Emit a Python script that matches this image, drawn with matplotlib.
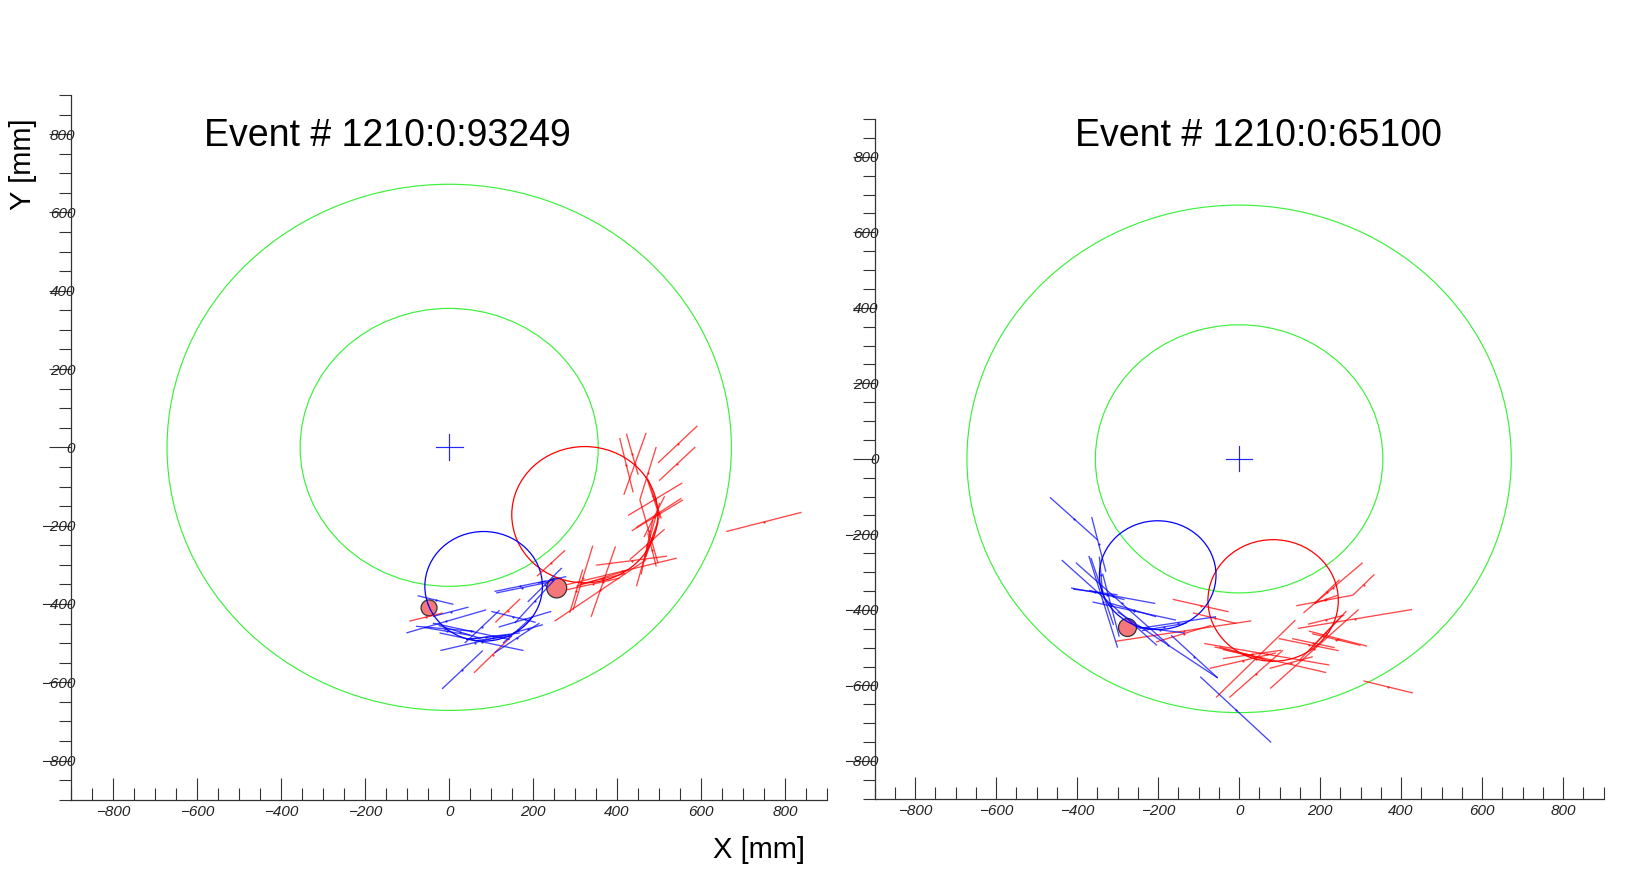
import numpy as np
import matplotlib
matplotlib.use('Agg')
import matplotlib.pyplot as plt
from matplotlib.collections import LineCollection
from matplotlib.patches import Circle
from matplotlib.ticker import MultipleLocator

plt.rcParams['font.family'] = ['Liberation Sans', 'DejaVu Sans']

W, H = 1641, 877

event_left = 'Event # 1210:0:93249'
event_right = 'Event # 1210:0:65100'

# detector radii [mm]
ring_radii = [355, 672]
axis_limit = 900

# helix circles: centre x, centre y, radius [mm]
left_red_helix = (323, -172, 174)
left_blue_helix = (82, -355, 140)
right_red_helix = (84, -375, 161)
right_blue_helix = (-201, -308, 144)

# vertices x, y
left_vertices = [(256, -359), (-48, -410)]
right_vertices = [(-277, -445)]

# hit segments x1, y1, x2, y2 [mm]
left_red = [
    (406, 24, 438, -115), (422, 35, 450, -70), (469, 37, 416, -121), (493, 1, 454, -134),
    (591, 55, 497, -40), (586, 1, 500, -85), (555, -91, 426, -174), (557, -134, 435, -213),
    (513, -209, 430, -287), (454, -134, 497, -295), (513, -125, 464, -229), (501, -142, 446, -355),
    (485, -185, 457, -325), (519, -278, 350, -301), (542, -283, 279, -351), (396, -253, 338, -433),
    (342, -251, 295, -415), (318, -312, 287, -423), (406, -334, 279, -364), (469, -287, 251, -444),
    (276, -263, 209, -329), (169, -387, 110, -447), (148, -483, 59, -576), (839, -166, 660, -215),
    (-95, -444, -15, -423), (493, -304, 473, -219), (469, -74, 501, -176), (465, -287, 501, -176),
    (303, -355, 429, -312), (474, -82, 505, -182), (468, -280, 498, -190), (310, -350, 420, -322),
    (553, -130, 445, -205),
]
left_blue = [
    (-75, -379, 10, -401), (46, -408, -39, -432), (88, -415, -102, -474), (100, -419, 206, -447),
    (243, -419, 118, -459), (223, -453, 152, -474), (-79, -457, 60, -470), (-23, -474, 177, -519),
    (-21, -519, 144, -478), (120, -416, 37, -500), (80, -519, -17, -617), (108, -368, 231, -341),
    (211, -347, 279, -330), (268, -308, 187, -395), (251, -338, 156, -449), (215, -449, 108, -525),
    (-39, -449, 144, -491), (41, -491, 168, -474), (199, -432, 128, -500), (-25, -455, 75, -488),
    (40, -490, 135, -480), (112, -372, 235, -345), (-60, -460, 50, -480), (60, -494, 150, -482),
]
right_red = [
    (-164, -372, -26, -405), (-114, -408, -7, -436), (30, -429, -304, -483), (-69, -441, -205, -485),
    (-86, -489, 223, -546), (-61, -498, 215, -566), (-73, -555, 91, -514), (-40, -529, 104, -507),
    (75, -555, 182, -524), (139, -427, -57, -632), (108, -507, -24, -632), (305, -275, 159, -408),
    (334, -306, 281, -361), (281, -361, 141, -389), (248, -320, 186, -383), (244, -361, 186, -383),
    (427, -399, 145, -449), (260, -414, 170, -438), (172, -456, 316, -496), (98, -476, 246, -508),
    (131, -476, 236, -500), (295, -399, 77, -608), (265, -403, 149, -533), (429, -620, 307, -588),
    (-49, -498, 83, -537), (180, -463, 300, -494), (-40, -505, 60, -530), (255, -415, 175, -505),
]
right_blue = [
    (-467, -102, -349, -215), (-364, -154, -329, -299), (-371, -257, -300, -500), (-438, -268, -203, -494),
    (-403, -275, -176, -491), (-415, -342, -207, -383), (-362, -379, -156, -427), (-337, -304, -296, -471),
    (-370, -348, -283, -373), (-300, -405, -53, -580), (-168, -467, -53, -580), (-96, -577, 79, -751),
    (-254, -445, -135, -461), (-246, -449, -57, -418), (-316, -383, -205, -418), (-345, -259, -337, -357),
    (-366, -262, -310, -440), (-410, -345, -300, -360), (-240, -455, -130, -435),
]


def caixa(x0, y_top, x1, y_bottom):
    return fig.add_axes([x0 / W, 1 - y_bottom / H, (x1 - x0) / W, (y_bottom - y_top) / H])


def desenha_evento(ax, red_seg, blue_seg, red_helix, blue_helix, vertices, sizes):
    ax.set_xlim(-axis_limit, axis_limit)
    ax.set_ylim(-axis_limit, axis_limit)
    ax.patch.set_alpha(0)
    ax.spines['top'].set_visible(False)
    ax.spines['right'].set_visible(False)
    for lado in ['left', 'bottom']:
        ax.spines[lado].set_linewidth(0.9)
        ax.spines[lado].set_color('#333333')

    for eixo in [ax.xaxis, ax.yaxis]:
        eixo.set_major_locator(MultipleLocator(200))
        eixo.set_minor_locator(MultipleLocator(50))
    # ticks in points: 22 px and 12 px at dpi 100
    ax.tick_params(axis='x', which='major', direction='in', length=15.8, width=0.8, color='#333333', pad=3.5)
    ax.tick_params(axis='x', which='minor', direction='in', length=8.6, width=0.8, color='#333333')
    ax.tick_params(axis='y', which='major', direction='out', length=15.8, width=0.8, color='#333333', pad=-18.7)
    ax.tick_params(axis='y', which='minor', direction='out', length=8.6, width=0.8, color='#333333')
    for rotulo in ax.get_xticklabels() + ax.get_yticklabels():
        rotulo.set_fontstyle('italic')
        rotulo.set_fontsize(11)
        rotulo.set_color('#222222')

    for raio in ring_radii:
        ax.add_patch(Circle((0, 0), raio, fill=False, ec='#3cf03c', lw=0.85))

    vx = [v[0] for v in vertices]
    vy = [v[1] for v in vertices]
    ax.scatter(vx, vy, s=sizes, c='#f4777a', edgecolors='#333333', linewidths=0.9, zorder=2)

    for hel, cor in [(red_helix, '#ff0000'), (blue_helix, '#0000ff')]:
        ax.add_patch(Circle(hel[:2], hel[2], fill=False, ec=cor, lw=0.9, zorder=3))

    for seg, cor in [(red_seg, '#ff0000'), (blue_seg, '#0000ff')]:
        seg = np.array(seg, dtype=float)
        linhas = seg.reshape(-1, 2, 2)
        ax.add_collection(LineCollection(linhas, colors=cor, linewidths=0.95, alpha=0.72, zorder=3))
        meio = linhas.mean(axis=1)
        ax.scatter(meio[:, 0], meio[:, 1], s=2.5, c=cor, linewidths=0, alpha=0.8, zorder=3)

    # beam spot cross
    ax.plot([-32, 32], [0, 0], color='#0000ff', lw=0.85, alpha=0.85, zorder=3)
    ax.plot([0, 0], [-33, 33], color='#0000ff', lw=0.85, alpha=0.85, zorder=3)


fig = plt.figure(figsize=(W / 100, H / 100), dpi=100, facecolor='white')

ax1 = caixa(71.3, 95.0, 827.1, 799.7)
desenha_evento(ax1, left_red, left_blue, left_red_helix, left_blue_helix, left_vertices, [207, 132])

ax2 = caixa(874.6, 119.0, 1603.6, 798.7)
desenha_evento(ax2, right_red, right_blue, right_red_helix, right_blue_helix, right_vertices, [168])

fig.text(204 / W, 1 - 146 / H, event_left, fontsize=27, color='black', va='baseline')
fig.text(1075 / W, 1 - 146 / H, event_right, fontsize=27, color='black', va='baseline')
fig.text(23 / W, 1 - 164 / H, 'Y [mm]', fontsize=21, rotation=90, ha='center', va='center')
fig.text(759 / W, 1 - 850 / H, 'X [mm]', fontsize=21, ha='center', va='center')

fig.savefig('out.png', dpi=100)
